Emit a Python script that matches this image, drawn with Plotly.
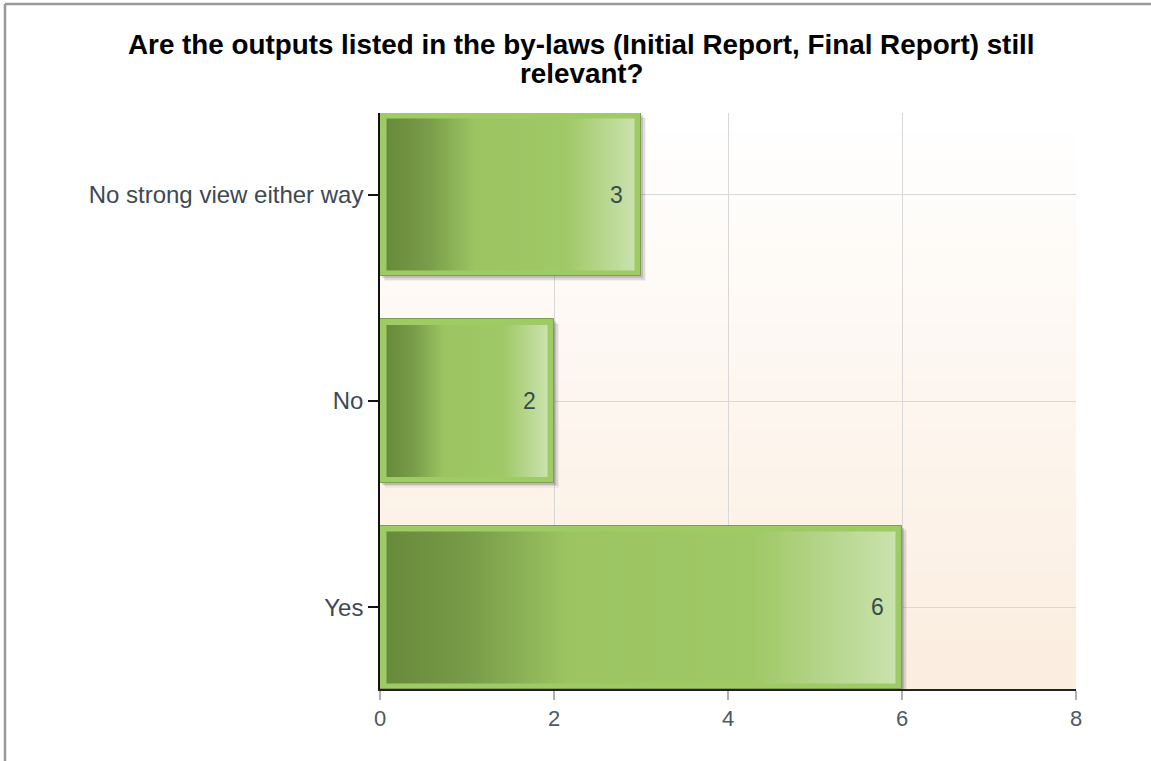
import plotly.graph_objects as go

# Survey answers (bottom to top on the chart)
categories = ["Yes", "No", "No strong view either way"]
counts = [6, 2, 3]
x_ticks = [0, 2, 4, 6, 8]

title_lines = ["Are the outputs listed in the by-laws (Initial Report, Final Report) still",
               "relevant?"]

# Layout geometry (pixels)
W, H = 1151, 761
ML, MR, MT, MB = 380, 75, 113, 72
PLOT_W = W - ML - MR
PLOT_H = H - MT - MB

BAR_W = 0.79                       # bar thickness in category units
Y_RANGE = [-BAR_W / 2, len(categories) - 1 + BAR_W / 2]
X_RANGE = [0, 8]
PX_PER_X = PLOT_W / (X_RANGE[1] - X_RANGE[0])
PX_PER_Y = PLOT_H / (Y_RANGE[1] - Y_RANGE[0])

ypos = list(range(len(categories)))


def px_to_paper_x(px):
    return (px - ML) / PLOT_W


def py_to_paper_y(py):
    return (H - MB - py) / PLOT_H


font_family = "Liberation Sans, Arial, sans-serif"

fig = go.Figure()

# Soft drop shadow behind each bar (stacked translucent copies, shifted right/down)
for shift_px, alpha in [(5.0, 0.05), (3.5, 0.10), (2.0, 0.16)]:
    dx = shift_px / PX_PER_X
    dy = shift_px / PX_PER_Y
    fig.add_trace(go.Bar(
        x=counts, y=ypos, base=dx, orientation="h",
        width=BAR_W, offset=-BAR_W / 2 - dy,
        marker=dict(color=f"rgba(40,40,40,{alpha})", line=dict(width=0)),
        hoverinfo="skip", showlegend=False,
    ))

# Bar body (acts as the light green frame)
fig.add_trace(go.Bar(
    x=counts, y=ypos, orientation="h", width=BAR_W,
    marker=dict(color="#9ecb63", line=dict(color="#7f9d55", width=1)),
    hoverinfo="skip", showlegend=False,
))

# Inner horizontal gradient panel of each bar
inset_x = 6.5 / PX_PER_X
inset_y = 5.5 / PX_PER_Y
grad = [[0.0, "#688a3b"], [0.16, "#779b48"], [0.36, "#9cc562"],
        [0.72, "#9fc866"], [1.0, "#cae2ad"]]
for v, yc in zip(counts, ypos):
    x0, x1 = inset_x, v - inset_x
    y0, y1 = yc - BAR_W / 2 + inset_y, yc + BAR_W / 2 - inset_y
    fig.add_trace(go.Scatter(
        x=[x0, x1, x1, x0, x0], y=[y0, y0, y1, y1, y0],
        mode="lines", fill="toself", line=dict(width=0),
        fillgradient=dict(type="horizontal", colorscale=grad),
        hoverinfo="skip", showlegend=False,
    ))

# Value labels inside the right end of each bar
for v, yc in zip(counts, ypos):
    fig.add_annotation(
        x=v, y=yc, text=str(v), showarrow=False, xanchor="right",
        xshift=-16, font=dict(size=23, color="#3b4a4c", family=font_family),
    )

# Two-line bold title
for line, cy in zip(title_lines, [45, 73]):
    fig.add_annotation(
        xref="paper", yref="paper",
        x=px_to_paper_x(581.5), y=py_to_paper_y(cy),
        xanchor="center", yanchor="middle", showarrow=False,
        text=f"<b>{line}</b>",
        font=dict(size=27.8, color="#000000", family=font_family),
    )

# Plot-area background: vertical fade from white to pale peach
top_rgb = (255, 255, 255)
bot_rgb = (251, 237, 223)
N = 60
shapes = []
for i in range(N):
    t = i / (N - 1)
    r = round(bot_rgb[0] + (top_rgb[0] - bot_rgb[0]) * t)
    g = round(bot_rgb[1] + (top_rgb[1] - bot_rgb[1]) * t)
    b = round(bot_rgb[2] + (top_rgb[2] - bot_rgb[2]) * t)
    shapes.append(dict(
        type="rect", xref="x domain", yref="y domain",
        x0=0, x1=1, y0=i / N, y1=(i + 1) / N + 0.002,
        fillcolor=f"rgb({r},{g},{b})", line=dict(width=0), layer="below",
    ))

# Outer frame lines (left and top) of the chart image
frame_col = "#999999"
shapes.append(dict(type="line", xref="paper", yref="paper",
                   x0=px_to_paper_x(5), x1=px_to_paper_x(W + 5),
                   y0=py_to_paper_y(4), y1=py_to_paper_y(4),
                   line=dict(color=frame_col, width=2.5)))
shapes.append(dict(type="line", xref="paper", yref="paper",
                   x0=px_to_paper_x(5), x1=px_to_paper_x(5),
                   y0=py_to_paper_y(4), y1=py_to_paper_y(H + 5),
                   line=dict(color=frame_col, width=2.5)))

fig.update_layout(
    width=W, height=H,
    margin=dict(l=ML, r=MR, t=MT, b=MB),
    paper_bgcolor="white", plot_bgcolor="white",
    barmode="overlay", bargap=0,
    shapes=shapes,
    font=dict(family=font_family),
)

fig.update_xaxes(
    range=X_RANGE, tickvals=x_ticks, ticktext=[str(t) for t in x_ticks],
    showgrid=True, gridcolor="#d8d8d8", gridwidth=1, zeroline=False,
    showline=True, linecolor="#222222", linewidth=1.5,
    ticks="outside", ticklen=9, tickcolor="#b0b0b0", tickwidth=1.5,
    tickfont=dict(size=22, color="#4d5a66", family=font_family),
    fixedrange=True,
)
fig.update_yaxes(
    range=Y_RANGE, tickvals=ypos, ticktext=categories,
    showgrid=True, gridcolor="#d8d8d8", gridwidth=1, zeroline=False,
    showline=True, linecolor="#111111", linewidth=1.5,
    ticks="outside", ticklen=10, tickcolor="#111111", tickwidth=1.5,
    tickfont=dict(size=24, color="#3e4854", family=font_family),
    fixedrange=True,
)

fig.write_html("out.html")
